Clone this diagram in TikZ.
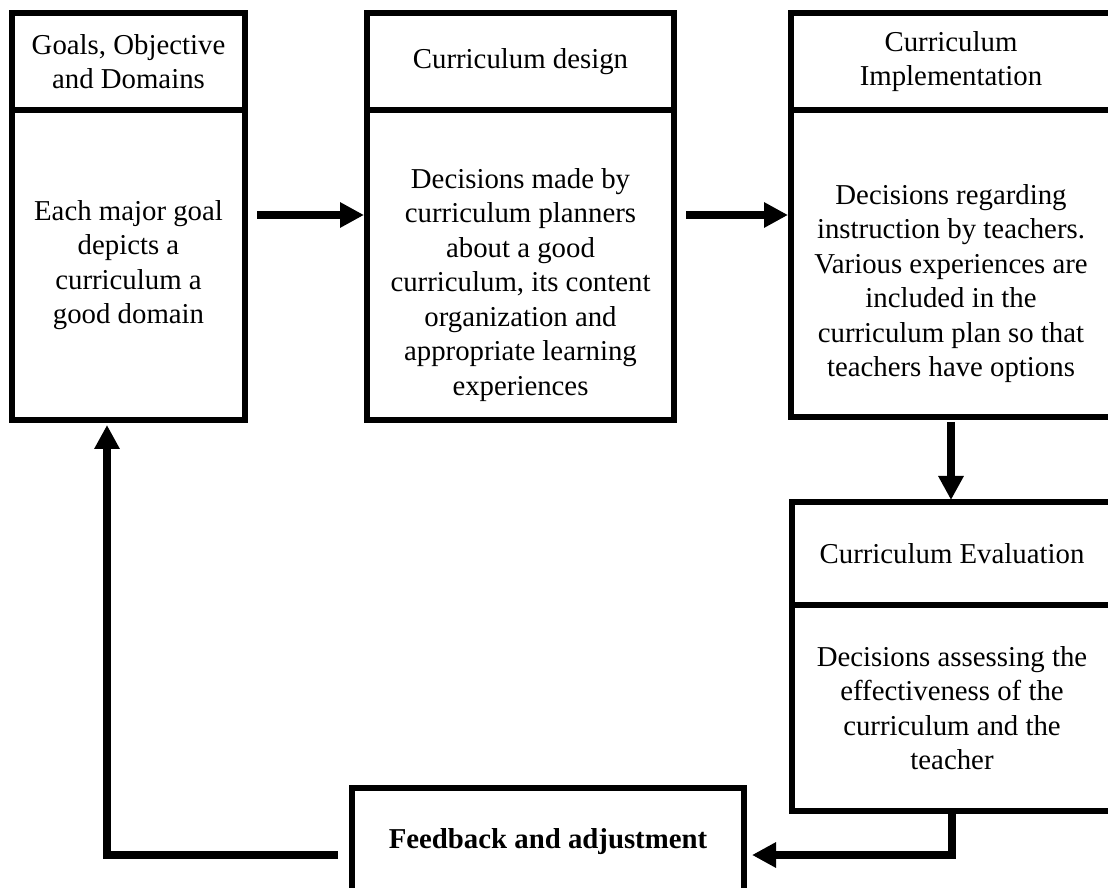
\documentclass[tikz,border=0pt]{standalone}
\usepackage{fontspec}
\setmainfont{Liberation Serif}
\usetikzlibrary{positioning,arrows.meta}
\tikzset{
  box/.style={draw, line width=5.5pt, inner sep=0pt, outer sep=0pt, align=center,
    font=\fontsize{28.8}{34.5}\selectfont},
  arr/.style={line width=8pt, -{Triangle[length=24pt,width=24pt]}}
}
\newcommand{\pushdown}{\rule{0pt}{60pt}}

\begin{document}
\begin{tikzpicture}[x=1pt,y=1pt]
\useasboundingbox (0,0) rectangle (1108,887);
\clip (0,0) rectangle (1108,887);
%put boxes
%goals
\node[box, minimum width=233pt, minimum height=97pt] (goalhead) at (128.5,825.5) {Goals, Objective\\and Domains};
\node[box, minimum width=233pt, minimum height=310pt, below=0pt of goalhead] (goalbody) {Each major goal\\depicts a\\curriculum a\\good domain};
%design
\node[box, minimum width=307pt, minimum height=97pt] (designhead) at (520.5,825.5) {Curriculum design};
\node[box, minimum width=307pt, minimum height=310pt, below=0pt of designhead] (designbody) {\pushdown Decisions made by\\curriculum planners\\about a good\\curriculum, its content\\organization and\\appropriate learning\\experiences};
%implementation
\node[box, minimum width=320pt, minimum height=97pt] (implhead) at (951,825.5) {Curriculum\\Implementation};
\node[box, minimum width=320pt, minimum height=307pt, below=0pt of implhead] (implbody) {\pushdown Decisions regarding\\instruction by teachers.\\Various experiences are\\included in the\\curriculum plan so that\\teachers have options};
%evaluation
\node[box, minimum width=320pt, minimum height=103pt] (evalhead) at (952,333.5) {Curriculum Evaluation};
\node[box, minimum width=320pt, minimum height=206pt, below=0pt of evalhead] (evalbody) {Decisions assessing the\\effectiveness of the\\curriculum and the\\teacher};
%feedback
\node[box, minimum width=392pt, minimum height=107pt] (fb) at (548,45.5) {\textbf{Feedback and adjustment}};

%arrows
\draw[arr, shorten >=3pt] ([xshift=12pt,yshift=50pt]goalbody.east) -- ([yshift=50pt]designbody.west);
\draw[arr, shorten >=3pt] ([xshift=12pt,yshift=50pt]designbody.east) -- ([yshift=48.5pt]implbody.west);
\draw[arr, shorten <=5pt, shorten >=2pt] (implbody.south) -- (implbody.south |- evalhead.north);
%loop back
\draw[arr, shorten >=8pt] (evalbody.south) |- ([yshift=-13.5pt]fb.east);
\draw[arr, shorten >=5pt] ([xshift=-14pt,yshift=-13pt]fb.west) -| ([xshift=-21.5pt]goalbody.south);
\end{tikzpicture}
\end{document}
